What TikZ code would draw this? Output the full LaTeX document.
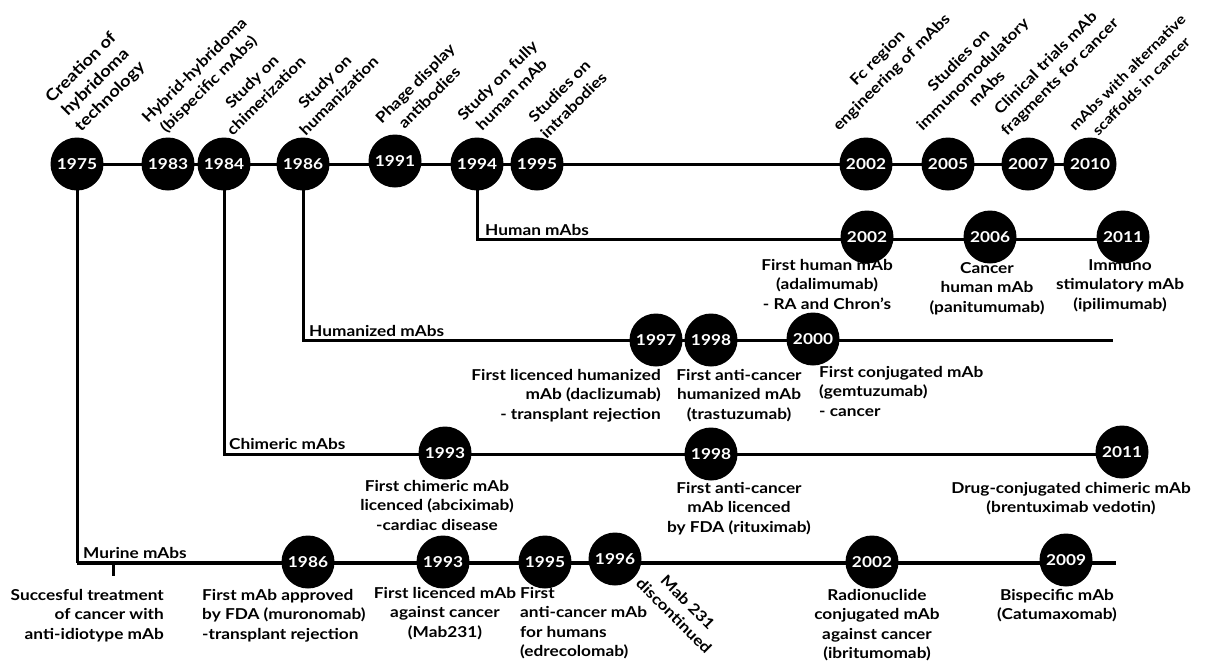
\documentclass[tikz,border=0pt]{standalone}
\usepackage{fontspec}
\setmainfont{Lato}[FakeStretch=1.15]
\usetikzlibrary{backgrounds}
\begin{document}
\begin{tikzpicture}[x=1pt,y=-1pt,
  yr/.style={circle,fill=black,text=white,minimum size=53pt,inner sep=0pt,
    font=\bfseries\fontsize{15}{15}\selectfont},
  lbl/.style={inner sep=0pt,font=\bfseries\fontsize{15}{19.5}\selectfont,align=center},
  rot/.style={lbl,font=\bfseries\fontsize{15}{20}\selectfont,rotate=45,anchor=south west},
  tl/.style={line width=3pt},
  ml/.style={line width=4pt}]
\useasboundingbox (0,0) rectangle (1208,667);
% top timeline
\node[yr] (t1975) at (77,164) {1975};
\node[yr] (t1983) at (168,164) {1983};
\node[yr] (t1984) at (224,164) {1984};
\node[yr] (t1986) at (303,164) {1986};
\node[yr] (t1991) at (395,161) {1991};
\node[yr] (t1994) at (477,164) {1994};
\node[yr] (t1995) at (537,164) {1995};
\node[yr] (t2002) at (866,164) {2002};
\node[yr] (t2005) at (948,164) {2005};
\node[yr] (t2007) at (1028,164) {2007};
\node[yr] (t2010) at (1090,164) {2010};
% human
\node[yr] (h2002) at (867,237) {2002};
\node[yr] (h2006) at (990,237) {2006};
\node[yr] (h2011) at (1123,237) {2011};
% humanized
\node[yr] (z1997) at (656,340) {1997};
\node[yr] (z1998) at (711,340) {1998};
\node[yr] (z2000) at (813,339) {2000};
% chimeric
\node[yr] (c1993) at (445,453) {1993};
\node[yr] (c1998) at (711,454) {1998};
\node[yr] (c2011) at (1122,452) {2011};
% murine
\node[yr] (u1986) at (308,562) {1986};
\node[yr] (u1993) at (443,562) {1993};
\node[yr] (u1995) at (545,562) {1995};
\node[yr] (u1996) at (615,559) {1996};
\node[yr] (u2002) at (872,562) {2002};
\node[yr] (u2009) at (1066,560) {2009};
% coordinates for branch ends
\coordinate (hS) at (477,239);
\coordinate (zS) at (303,340);
\coordinate (zE) at (1113,340);
\coordinate (cS) at (224,454);
\coordinate (uS) at (77,563);
\coordinate (uE) at (1116,563);
\coordinate (tickT) at (113,563);
\coordinate (tickB) at (113,576);
\begin{scope}[on background layer]
\draw[tl] (t1975.center) -- (t2010.center);
\draw[tl] (t1994.center) -- (hS) -- (hS -| h2011.center);
\draw[tl] (t1986.center) -- (zS) -- (zE);
\draw[tl] (t1984.center) -- (cS) -- (cS -| c2011.center);
\draw[tl] (t1975.center) -- (uS);
\draw[ml] (uS) -- (uE);
\draw[tl] (tickT) -- (tickB);
\end{scope}
% branch labels
\node[lbl,anchor=base west] (lhum) at (485,235) {Human mAbs};
\node[lbl,anchor=base west] (lhz) at (309,336) {Humanized mAbs};
\node[lbl,anchor=base west] (lchi) at (229,449) {Chimeric mAbs};
\node[lbl,anchor=base west] (lmur) at (83,558) {Murine mAbs};
% rotated labels
\node[rot,font=\bfseries\fontsize{16}{20.5}\selectfont] (r1975) at (83,135) {Creation of\\hybridoma\\technology};
\node[rot] (r1983) at (164,140) {Hybrid-hybridoma\\(bispecific mAbs)};
\node[rot] (r1984) at (233,137) {Study on\\chimerization};
\node[rot] (r1986) at (306,137) {Study on\\humanization};
\node[rot] (r1991) at (396,139) {Phage display\\antibodies};
\node[rot] (r1994) at (478,136) {Study on fully\\human mAb};
\node[rot] (r1995) at (547,140) {Studies on\\intrabodies};
\node[rot] (r2002) at (841,134) {Fc region\\engineering of mAbs};
\node[rot] (r2005) at (937,146) {Studies on\\immunomodulatory\\mAbs};
\node[rot] (r2007) at (1009,139) {Clinical trials mAb\\fragments for cancer};
\node[rot,font=\bfseries\fontsize{14}{19.5}\selectfont] (r2010) at (1089,146) {mAbs with alternative\\scaffolds in cancer};
% human texts
\node[lbl,anchor=north] (dh2002) at (827,259) {First human mAb\\(adalimumab)\\- RA and Chron’s};
\node[lbl,anchor=north] (dh2006) at (987,262) {Cancer\\human mAb\\(panitumumab)};
\node[lbl,anchor=north] (dh2011) at (1120,259) {Immuno\\stimulatory mAb\\(ipilimumab)};
% humanized texts
\node[lbl,align=right,anchor=north east] (dz1997) at (661,369) {First licenced humanized\\mAb (daclizumab)\\- transplant rejection};
\node[lbl,anchor=north] (dz1998) at (739,369) {First anti-cancer\\humanized mAb\\(trastuzumab)};
\node[lbl,align=left,anchor=north west] (dz2000) at (819,366) {First conjugated mAb\\(gemtuzumab)\\- cancer};
% chimeric texts
\node[lbl,anchor=north] (dc1993) at (437,480) {First chimeric mAb\\licenced (abciximab)\\-cardiac disease};
\node[lbl,anchor=north] (dc1998) at (739,482) {First anti-cancer\\mAb licenced\\by FDA (rituximab)};
\node[lbl,anchor=north] (dc2011) at (1071,482) {Drug-conjugated chimeric mAb\\(brentuximab vedotin)};
% murine texts
\node[lbl,align=right,anchor=north east] (dtick) at (164,589) {Succesful treatment\\of cancer with\\anti-idiotype mAb};
\node[lbl,align=left,anchor=north west] (du1986) at (202,589) {First mAb approved\\by FDA (muronomab)\\-transplant rejection};
\node[lbl,anchor=north] (du1993) at (445,587) {First licenced mAb\\against cancer\\(Mab231)};
\node[lbl,align=left,anchor=north west] (du1995) at (520,587) {First\\anti-cancer mAb\\for humans\\(edrecolomab)};
\node[lbl,rotate=-45] (du1996) at (681,609) {Mab 231\\discontinued};
\node[lbl,anchor=north] (du2002) at (877,589) {Radionuclide\\conjugated mAb\\against cancer\\(ibritumomab)};
\node[lbl,anchor=north] (du2009) at (1057,589) {Bispecific mAb\\(Catumaxomab)};
\end{tikzpicture}
\end{document}
